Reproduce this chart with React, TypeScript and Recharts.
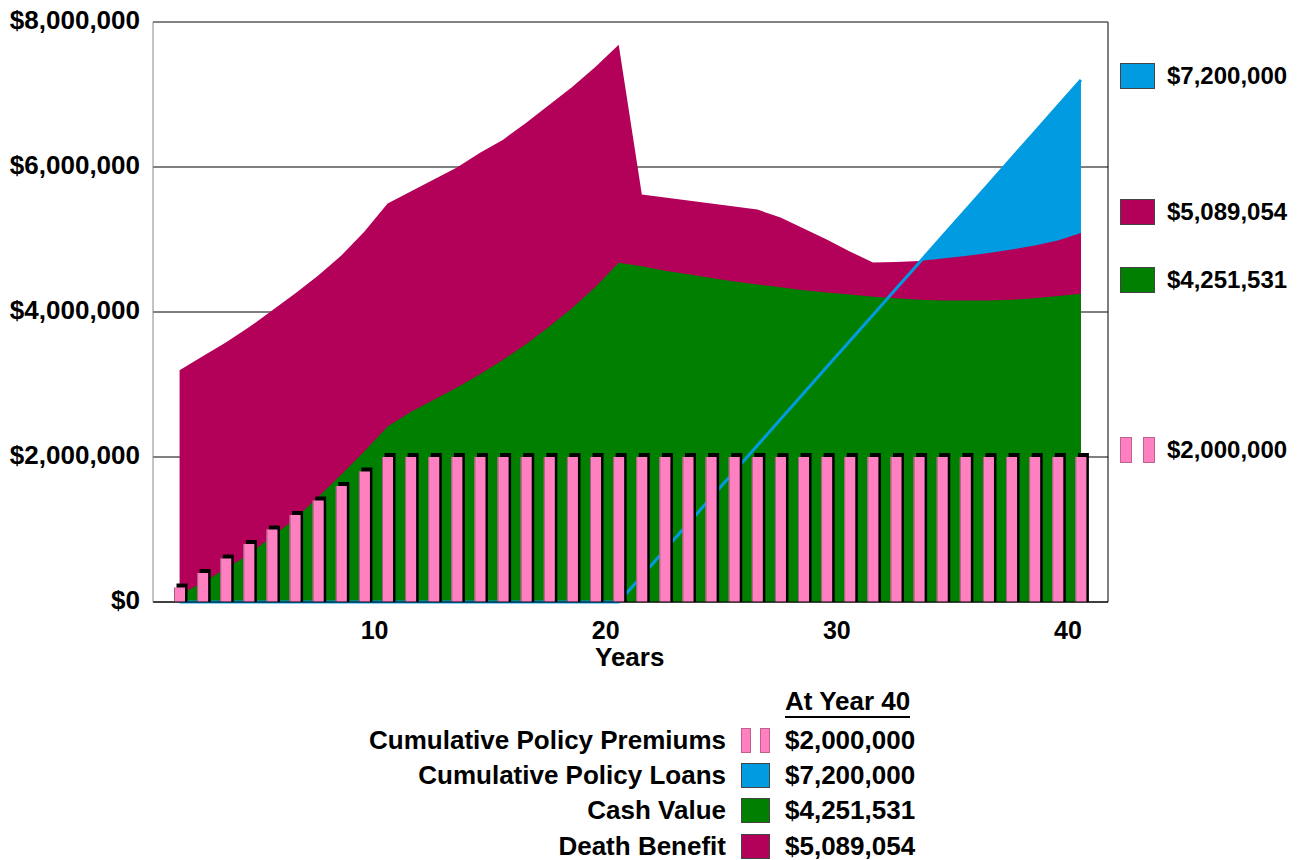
import React from "react";
import {
  ComposedChart,
  Area,
  Bar,
  Line,
  XAxis,
  YAxis,
  CartesianGrid,
  ReferenceLine,
} from "recharts";

const years = [
  1, 2, 3, 4, 5, 6, 7, 8, 9, 10, 11, 12, 13, 14, 15, 16, 17, 18, 19, 20,
  21, 22, 23, 24, 25, 26, 27, 28, 29, 30, 31, 32, 33, 34, 35, 36, 37, 38, 39, 40,
];

const premiums = [
  200000, 400000, 600000, 800000, 1000000, 1200000, 1400000, 1600000, 1800000, 2000000,
  2000000, 2000000, 2000000, 2000000, 2000000, 2000000, 2000000, 2000000, 2000000, 2000000,
  2000000, 2000000, 2000000, 2000000, 2000000, 2000000, 2000000, 2000000, 2000000, 2000000,
  2000000, 2000000, 2000000, 2000000, 2000000, 2000000, 2000000, 2000000, 2000000, 2000000,
];

const loans = [
  0, 0, 0, 0, 0, 0, 0, 0, 0, 0, 0, 0, 0, 0, 0, 0, 0, 0, 0, 0,
  360000, 720000, 1080000, 1440000, 1800000, 2160000, 2520000, 2880000, 3240000, 3600000,
  3960000, 4320000, 4680000, 5040000, 5400000, 5760000, 6120000, 6480000, 6840000, 7200000,
];

const cashValue = [
  100000, 270000, 460000, 660000, 900000, 1150000, 1450000, 1760000, 2080000, 2420000,
  2620000, 2790000, 2960000, 3140000, 3340000, 3560000, 3800000, 4060000, 4350000, 4680000,
  4630000, 4570000, 4520000, 4470000, 4420000, 4380000, 4340000, 4300000, 4270000, 4240000,
  4210000, 4190000, 4170000, 4160000, 4160000, 4160000, 4170000, 4190000, 4220000, 4251531,
];

const deathBenefit = [
  3196000, 3388000, 3581000, 3788000, 4022000, 4256000, 4504000, 4780000, 5110000, 5496000,
  5661000, 5826000, 5992000, 6198000, 6377000, 6612000, 6860000, 7107000, 7383000, 7686000,
  5620000, 5579000, 5537000, 5496000, 5455000, 5413000, 5303000, 5152000, 5000000, 4835000,
  4683000, 4690000, 4704000, 4738000, 4773000, 4814000, 4862000, 4917000, 4986000, 5089054,
];

const yTicks = [0, 2000000, 4000000, 6000000, 8000000];
const xTicks = [10, 20, 30, 40];

const legendRows = [
  { label: "Cumulative Policy Premiums", value: "$2,000,000", kind: "bars" },
  { label: "Cumulative Policy Loans", value: "$7,200,000", kind: "loans" },
  { label: "Cash Value", value: "$4,251,531", kind: "cash" },
  { label: "Death Benefit", value: "$5,089,054", kind: "death" },
];

const PINK = "#FF80C0";
const BLUE = "#009BE1";
const GREEN = "#007F00";
const MAGENTA = "#B30058";
const FONT = "'Liberation Sans', Arial, sans-serif";

const data = years.map((year, i) => ({
  year,
  premium: premiums[i],
  loan: loans[i],
  cash: cashValue[i],
  death: deathBenefit[i],
}));

const money = (v: number) => "$" + v.toLocaleString("en-US");

const PremiumBar = (props: any) => {
  const { x, y, width, height } = props;
  if (!height) return null;
  return (
    <g>
      <rect x={x + 2.5} y={y - 4} width={width} height={height + 4} fill="#000" />
      <rect x={x} y={y} width={width} height={height} fill={PINK} />
      <line x1={x + 0.5} y1={y} x2={x + 0.5} y2={y + height} stroke="#a0607f" strokeWidth={1} />
    </g>
  );
};

const swatch = (kind: string, w: number, h: number) => {
  if (kind === "bars") {
    const bw = Math.round(w * 0.34);
    return (
      <div style={{ width: w, height: h, position: "relative" }}>
        <div style={{ position: "absolute", left: 0, top: 0, width: bw, height: h, background: PINK, boxSizing: "border-box", border: "1px solid #c0608f" }} />
        <div style={{ position: "absolute", right: 0, top: 0, width: bw, height: h, background: PINK, boxSizing: "border-box", border: "1px solid #c0608f" }} />
      </div>
    );
  }
  const color = kind === "loans" ? BLUE : kind === "cash" ? GREEN : MAGENTA;
  return <div style={{ width: w, height: h, background: color, boxSizing: "border-box", border: "1px solid #444" }} />;
};

const textStyle: React.CSSProperties = {
  position: "absolute",
  fontFamily: FONT,
  fontWeight: "bold",
  fontSize: 26,
  color: "#000",
  whiteSpace: "nowrap",
  lineHeight: "30px",
};

export default function App() {
  const rightItems = [
    { kind: "loans", value: "$7,200,000", top: 63 },
    { kind: "death", value: "$5,089,054", top: 199 },
    { kind: "cash", value: "$4,251,531", top: 267 },
    { kind: "bars", value: "$2,000,000", top: 437 },
  ];
  const rowTops = [725, 760, 795, 831];

  return (
    <div style={{ position: "absolute", left: 0, top: 0, width: 1314, height: 860, background: "#fff" }}>
      <ComposedChart
        width={1314}
        height={860}
        data={data}
        margin={{ top: 22, right: 206, left: 8, bottom: 198 }}
      >
        <CartesianGrid vertical={false} stroke="#000" strokeWidth={1} />
        <XAxis
          dataKey="year"
          type="number"
          domain={[-0.15, 41.17]}
          ticks={xTicks}
          allowDataOverflow
          height={60}
          axisLine={{ stroke: "#000", strokeWidth: 1 }}
          tickLine={false}
          tickSize={0}
          tickMargin={19}
          tick={{ fill: "#000", fontSize: 25, fontWeight: "bold", fontFamily: FONT, dx: -13 }}
        />
        <YAxis
          domain={[0, 8000000]}
          ticks={yTicks}
          width={145}
          axisLine={{ stroke: "#888", strokeWidth: 1 }}
          tickLine={false}
          tickSize={0}
          tickMargin={13}
          tickFormatter={money}
          tick={{ fill: "#000", fontSize: 26, fontWeight: "bold", fontFamily: FONT, dy: -2 }}
        />
        <ReferenceLine x={41.17} stroke="#000" strokeWidth={1} ifOverflow="extendDomain" />
        <ReferenceLine y={8000000} stroke="#888" strokeWidth={1} />
        <Area
          type="linear"
          dataKey="loan"
          fill={BLUE}
          fillOpacity={1}
          stroke="none"
          isAnimationActive={false}
        />
        <Area
          type="linear"
          dataKey="death"
          fill={MAGENTA}
          fillOpacity={1}
          stroke="none"
          isAnimationActive={false}
        />
        <Area
          type="linear"
          dataKey="cash"
          fill={GREEN}
          fillOpacity={1}
          stroke="none"
          isAnimationActive={false}
        />
        <Line
          type="linear"
          dataKey="loan"
          stroke={BLUE}
          strokeWidth={3}
          dot={false}
          isAnimationActive={false}
          zIndex={250}
        />
        <Bar
          dataKey="premium"
          barSize={11}
          shape={PremiumBar}
          isAnimationActive={false}
        />
      </ComposedChart>

      <div style={{ ...textStyle, left: 595, top: 642 }}>Years</div>

      {rightItems.map((it) => (
        <div key={it.value + it.kind} style={{ position: "absolute", left: 1120, top: it.top, height: 26 }}>
          <div style={{ position: "absolute", left: 0, top: 0 }}>{swatch(it.kind, 35, 26)}</div>
          <div style={{ ...textStyle, fontSize: 24, left: 47, top: -2 }}>{it.value}</div>
        </div>
      ))}

      <div style={{ ...textStyle, left: 785, top: 686, borderBottom: "2px solid #000", lineHeight: "30px" }}>
        At Year 40
      </div>
      {legendRows.map((row, i) => (
        <React.Fragment key={row.label}>
          <div style={{ ...textStyle, right: 1314 - 726, top: rowTops[i], textAlign: "right" }}>{row.label}</div>
          <div style={{ position: "absolute", left: 741, top: rowTops[i] + 3 }}>{swatch(row.kind, 29, 25)}</div>
          <div style={{ ...textStyle, left: 785, top: rowTops[i] }}>{row.value}</div>
        </React.Fragment>
      ))}
    </div>
  );
}
